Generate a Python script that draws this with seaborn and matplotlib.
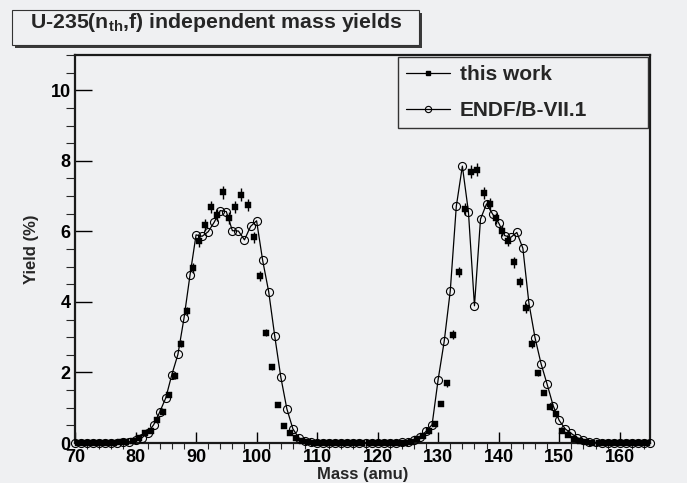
import numpy as np
import pandas as pd
import matplotlib
matplotlib.use("Agg")
import matplotlib.pyplot as plt
import seaborn as sns
from matplotlib.lines import Line2D
from matplotlib.patches import Rectangle
from matplotlib.ticker import MultipleLocator

# ---------------- data ----------------
endf_mass = list(range(70, 166))
endf_yield = [
    0.00, 0.00, 0.00, 0.00, 0.00, 0.00, 0.00, 0.01, 0.02, 0.04,   # 70-79
    0.08, 0.14, 0.28, 0.52, 0.88, 1.28, 1.94, 2.51, 3.53, 4.76,   # 80-89
    5.90, 5.86, 5.99, 6.26, 6.59, 6.56, 6.02, 6.01, 5.76, 6.14,   # 90-99
    6.30, 5.18, 4.29, 3.03, 1.87, 0.97, 0.40, 0.14, 0.05, 0.02,   # 100-109
    0.01, 0.00, 0.00, 0.00, 0.00, 0.00, 0.00, 0.00, 0.00, 0.00,   # 110-119
    0.00, 0.00, 0.00, 0.01, 0.02, 0.04, 0.08, 0.17, 0.33, 0.52,   # 120-129
    1.80, 2.88, 4.31, 6.71, 7.85, 6.56, 3.89, 6.35, 6.78, 6.49,   # 130-139
    6.24, 5.88, 5.83, 5.97, 5.52, 3.96, 2.99, 2.25, 1.67, 1.06,   # 140-149
    0.64, 0.40, 0.27, 0.15, 0.08, 0.04, 0.02, 0.01, 0.00, 0.00,   # 150-159
    0.00, 0.00, 0.00, 0.00, 0.00, 0.00,                           # 160-165
]

work_mass = list(np.arange(70.5, 165.0, 1.0))
work_yield = [
    0.00, 0.00, 0.00, 0.00, 0.00, 0.01, 0.01, 0.02, 0.03, 0.07,   # 70.5-79.5
    0.15, 0.28, 0.33, 0.64, 0.88, 1.37, 1.90, 2.82, 3.74, 4.95,   # 80.5-89.5
    5.73, 6.19, 6.70, 6.46, 7.11, 6.37, 6.70, 7.04, 6.75, 5.83,   # 90.5-99.5
    4.74, 3.13, 2.16, 1.09, 0.47, 0.28, 0.14, 0.07, 0.03, 0.01,   # 100.5-109.5
    0.00, 0.00, 0.00, 0.00, 0.00, 0.00, 0.00, 0.00, 0.00, 0.00,   # 110.5-119.5
    0.00, 0.00, 0.00, 0.00, 0.01, 0.03, 0.10, 0.21, 0.33, 0.55,   # 120.5-129.5
    1.12, 1.69, 3.07, 4.85, 6.63, 7.69, 7.75, 7.08, 6.78, 6.37,   # 130.5-139.5
    6.02, 5.73, 5.12, 4.57, 3.83, 2.80, 1.99, 1.42, 1.01, 0.83,   # 140.5-149.5
    0.35, 0.24, 0.12, 0.06, 0.03, 0.01, 0.00, 0.00, 0.00, 0.00,   # 150.5-159.5
    0.00, 0.00, 0.00, 0.00, 0.00,                                 # 160.5-164.5
]
work_err = [
    0.00, 0.00, 0.00, 0.00, 0.00, 0.01, 0.01, 0.01, 0.01, 0.02,
    0.03, 0.03, 0.04, 0.05, 0.06, 0.07, 0.09, 0.10, 0.12, 0.14,
    0.16, 0.17, 0.17, 0.17, 0.18, 0.17, 0.17, 0.18, 0.17, 0.16,
    0.14, 0.10, 0.09, 0.06, 0.04, 0.03, 0.02, 0.01, 0.01, 0.01,
    0.00, 0.00, 0.00, 0.00, 0.00, 0.00, 0.00, 0.00, 0.00, 0.00,
    0.00, 0.00, 0.00, 0.00, 0.01, 0.01, 0.02, 0.03, 0.04, 0.05,
    0.07, 0.09, 0.12, 0.15, 0.17, 0.18, 0.18, 0.17, 0.17, 0.16,
    0.16, 0.15, 0.15, 0.14, 0.13, 0.11, 0.09, 0.07, 0.06, 0.05,
    0.04, 0.03, 0.02, 0.01, 0.01, 0.01, 0.00, 0.00, 0.00, 0.00,
    0.00, 0.00, 0.00, 0.00, 0.00,
]

title_text = r"U-235(n$_{\mathrm{th}}$,f) independent mass yields"
legend_labels = ["this work", "ENDF/B-VII.1"]
x_label = "Mass (amu)"
y_label = "Yield (%)"

# ---------------- style ----------------
sns.set_style("ticks")
BG = "#eff0f2"
plt.rcParams["font.family"] = ["Liberation Sans", "DejaVu Sans"]
plt.rcParams["font.weight"] = "bold"
plt.rcParams["mathtext.fontset"] = "custom"
plt.rcParams["mathtext.rm"] = "Liberation Sans:bold"
plt.rcParams["mathtext.it"] = "Liberation Sans:bold"
plt.rcParams["mathtext.bf"] = "Liberation Sans:bold"

fig = plt.figure(figsize=(6.87, 4.83), dpi=100, facecolor=BG)
ax = fig.add_axes([0.1092, 0.0828, 0.8369, 0.8033], facecolor=BG)

df_endf = pd.DataFrame({"mass": endf_mass, "yield": endf_yield})
df_work = pd.DataFrame({"mass": work_mass, "yield": work_yield, "err": work_err})

sns.lineplot(data=df_endf, x="mass", y="yield", ax=ax, color="black",
             linewidth=0.9, marker="o", markersize=5.8,
             markerfacecolor="none", markeredgecolor="black",
             markeredgewidth=0.8, errorbar=None, clip_on=False, zorder=3)

ax.errorbar(df_work["mass"], df_work["yield"], yerr=df_work["err"],
            fmt="none", ecolor="black", elinewidth=1.0, capsize=0,
            zorder=4, clip_on=False)
sns.scatterplot(data=df_work, x="mass", y="yield", ax=ax, marker="s",
                s=13, color="black", edgecolor="black", linewidth=0.3,
                zorder=5, clip_on=False)

ax.set_xlim(70, 165)
ax.set_ylim(0, 11)
ax.xaxis.set_major_locator(MultipleLocator(10))
ax.xaxis.set_minor_locator(MultipleLocator(2))
ax.yaxis.set_major_locator(MultipleLocator(2))
ax.yaxis.set_minor_locator(MultipleLocator(0.5))
ax.set_xticks(list(range(70, 161, 10)))
ax.set_yticks([0, 2, 4, 6, 8, 10])

ax.tick_params(direction="in", top=False, right=False, labelsize=13,
               colors="black")
ax.tick_params(axis="x", which="major", length=8, width=1, pad=4)
ax.tick_params(axis="x", which="minor", length=4.3, width=0.8)
ax.tick_params(axis="y", which="major", length=12, width=1, pad=3)
ax.tick_params(axis="y", which="minor", length=6.5, width=0.8)
for lbl in ax.get_xticklabels() + ax.get_yticklabels():
    lbl.set_fontweight("bold")

for side in ["left", "bottom", "right", "top"]:
    ax.spines[side].set_visible(True)
    ax.spines[side].set_linewidth(1.6)
    ax.spines[side].set_color("#1a1a1a")

ax.set_xlabel(x_label, fontsize=12, fontweight="bold")
ax.set_ylabel(y_label, fontsize=12, fontweight="bold")
ax.xaxis.set_label_coords(0.5, -0.0805)
ax.xaxis.label.set_va("center")
ax.yaxis.set_label_coords(-0.0765, 0.5)
ax.yaxis.label.set_va("center")

# legend
h1 = Line2D([], [], color="black", lw=0.9, marker="s", ms=3.2,
            mfc="black", mec="black")
h2 = Line2D([], [], color="black", lw=0.9, marker="o", ms=4.5,
            mfc="none", mec="black", mew=0.8)
leg = ax.legend([h1, h2], legend_labels, loc="upper left",
                bbox_to_anchor=(0.5617, 0.8119, 0.4348, 0.1829),
                mode="expand", borderaxespad=0, fancybox=False,
                framealpha=1, facecolor=BG, edgecolor="#333333",
                prop={"weight": "bold", "size": 15},
                handlelength=2.1, handletextpad=0.5, labelspacing=0.84,
                borderpad=0.38)
leg.get_frame().set_linewidth(1.0)

# title box with shadow
bx, by, bw, bh = 0.01747, 0.9068, 0.5924, 0.07246
fig.patches.append(Rectangle((bx + 0.0044, by - 0.0062), bw, bh,
                             transform=fig.transFigure, facecolor="#3a3a3a",
                             edgecolor="none", zorder=1))
fig.patches.append(Rectangle((bx, by), bw, bh, transform=fig.transFigure,
                             facecolor=BG, edgecolor="#333333",
                             linewidth=0.8, zorder=2))
fig.text(0.3144, 0.942, title_text, ha="center", va="baseline",
         fontsize=15.3, fontweight="bold", zorder=3)

fig.savefig("out.png", dpi=100, facecolor=BG)
